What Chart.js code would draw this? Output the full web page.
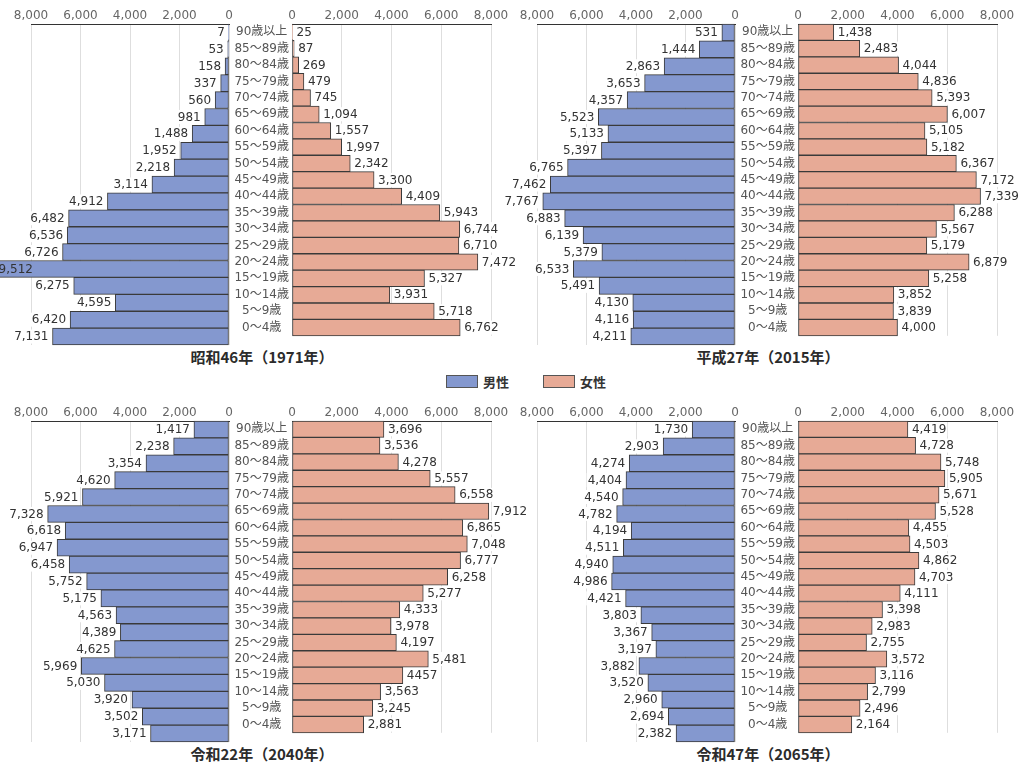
<!DOCTYPE html>
<html lang="ja">
<head>
<meta charset="utf-8">
<title>人口ピラミッド</title>
<script src="https://cdn.jsdelivr.net/npm/chart.js@4/dist/chart.umd.min.js"></script>
<style>
  html, body { margin: 0; padding: 0; background: #fff; }
  body { width: 1020px; height: 763px; position: relative; overflow: hidden;
         font-family: "DejaVu Sans", "Noto Sans CJK JP", sans-serif; }
  canvas { position: absolute; }
  .title { position: absolute; width: 240px; text-align: center; font: 700 15px "Noto Sans CJK JP", sans-serif;
           color: #2b2b2b; line-height: 20px; }
  .legend { position: absolute; top: 372px; left: 446px; display: flex; align-items: center;
            font: 700 13px "Noto Sans CJK JP", sans-serif; color: #333; }
  .legend span.sw { display: inline-block; width: 30px; height: 11px; border: 1px solid #555; margin-right: 5px; }
  .legend .item { display: flex; align-items: center; margin-right: 34px; }
</style>
</head>
<body>
<script>
// 年齢階級（上から下へ）
const ageGroups = ['90歳以上', '85～89歳', '80～84歳', '75～79歳', '70～74歳', '65～69歳', '60～64歳',
  '55～59歳', '50～54歳', '45～49歳', '40～44歳', '35～39歳', '30～34歳', '25～29歳', '20～24歳',
  '15～19歳', '10～14歳', '5～9歳', '0～4歳'];

// 人口（人）
const male1971 = [7, 53, 158, 337, 560, 981, 1488, 1952, 2218, 3114, 4912, 6482, 6536, 6726, 9512, 6275, 4595, 6420, 7131];
const female1971 = [25, 87, 269, 479, 745, 1094, 1557, 1997, 2342, 3300, 4409, 5943, 6744, 6710, 7472, 5327, 3931, 5718, 6762];
const male2015 = [531, 1444, 2863, 3653, 4357, 5523, 5133, 5397, 6765, 7462, 7767, 6883, 6139, 5379, 6533, 5491, 4130, 4116, 4211];
const female2015 = [1438, 2483, 4044, 4836, 5393, 6007, 5105, 5182, 6367, 7172, 7339, 6288, 5567, 5179, 6879, 5258, 3852, 3839, 4000];
const male2040 = [1417, 2238, 3354, 4620, 5921, 7328, 6618, 6947, 6458, 5752, 5175, 4563, 4389, 4625, 5969, 5030, 3920, 3502, 3171];
const female2040 = [3696, 3536, 4278, 5557, 6558, 7912, 6865, 7048, 6777, 6258, 5277, 4333, 3978, 4197, 5481, 4457, 3563, 3245, 2881];
const male2065 = [1730, 2903, 4274, 4404, 4540, 4782, 4194, 4511, 4940, 4986, 4421, 3803, 3367, 3197, 3882, 3520, 2960, 2694, 2382];
const female2065 = [4419, 4728, 5748, 5905, 5671, 5528, 4455, 4503, 4862, 4703, 4111, 3398, 2983, 2755, 3572, 3116, 2799, 2496, 2164];

// 15～19歳 の女性の値は桁区切りなしで表示
const female2040PlainRows = [15];

const axisMax = 8000;
const axisTicks = [0, 2000, 4000, 6000, 8000];

const MALE_COLOR = 'rgb(132,152,207)';
const FEMALE_COLOR = 'rgb(231,170,150)';
const BAR_BORDER = '#3a3a3a';
const FONT = '"DejaVu Sans", "Noto Sans CJK JP", sans-serif';

const fmt = v => v.toLocaleString('en-US');

// 棒の先に数値を描く
const valueLabels = {
  id: 'valueLabels',
  afterDatasetsDraw(chart, args, opts) {
    const { ctx } = chart;
    const values = chart.data.datasets[0].data;
    const plain = opts.plainRows || [];
    const max = chart.scales.x.max;
    ctx.save();
    ctx.font = '12px ' + FONT;
    ctx.textBaseline = 'middle';
    ctx.textAlign = 'left';
    chart.getDatasetMeta(0).data.forEach((bar, i) => {
      const v = values[i];
      const text = plain.includes(i) ? String(v) : fmt(v);
      const w = ctx.measureText(text).width;
      let x, bg = true;
      if (v > max) {
        // 軸の範囲を超える棒は棒の内側に表示
        x = opts.side === 'left' ? bar.x + 5 : bar.x - 5 - w;
        bg = false;
      } else {
        x = opts.side === 'left' ? bar.x - 4 - w : bar.x + 4;
      }
      if (bg) {
        ctx.fillStyle = '#fff';
        ctx.fillRect(x - 1, bar.y - 7, w + 2, 14);
      }
      ctx.fillStyle = '#333';
      ctx.fillText(text, x, bar.y + 0.5);
    });
    ctx.restore();
  }
};

function xScale(reverse) {
  return {
    position: 'top',
    reverse,
    min: 0,
    max: axisMax,
    ticks: {
      stepSize: 1000,
      autoSkip: false,
      maxRotation: 0,
      padding: 1,
      color: '#666',
      font: { family: FONT, size: 12 },
      callback: v => axisTicks.includes(v) ? fmt(v) : null
    },
    grid: { color: '#dedede', lineWidth: 1, drawTicks: false },
    border: { display: true, color: '#333', width: 1 },
    afterFit: s => { s.height = 24; }
  };
}

function makeCanvas(left, top, width, height) {
  const c = document.createElement('canvas');
  c.width = width; c.height = height;
  c.style.left = left + 'px'; c.style.top = top + 'px';
  c.style.width = width + 'px'; c.style.height = height + 'px';
  document.body.appendChild(c);
  return c;
}

function sideChart(canvas, values, isMale, padding, plainRows) {
  const scales = { x: xScale(isMale) };
  if (isMale) {
    scales.y = { display: false };
  } else {
    scales.y = {
      position: 'left',
      grid: { display: false, drawTicks: false },
      border: { display: false },
      ticks: { crossAlign: 'center', padding: 3, autoSkip: false, color: '#555',
                font: { family: FONT, size: 12 } },
      afterFit: s => { s.width = 63; }
    };
  }
  return new Chart(canvas, {
    type: 'bar',
    data: {
      labels: ageGroups,
      datasets: [{
        label: isMale ? '男性' : '女性',
        data: values,
        backgroundColor: isMale ? MALE_COLOR : FEMALE_COLOR,
        borderColor: BAR_BORDER,
        borderWidth: 1,
        borderSkipped: false,
        categoryPercentage: 1,
        barPercentage: 1,
        clip: false
      }]
    },
    options: {
      indexAxis: 'y',
      responsive: false,
      animation: false,
      devicePixelRatio: 1,
      layout: { padding },
      scales,
      plugins: {
        legend: { display: false },
        tooltip: { enabled: false },
        valueLabels: { side: isMale ? 'left' : 'right', plainRows: plainRows || [] }
      }
    },
    plugins: [valueLabels]
  });
}

const pyramids = [
  { title: '昭和46年（1971年）', male: male1971, female: female1971, ox: 0, oy: 0, femaleRight: 535 },
  { title: '平成27年（2015年）', male: male2015, female: female2015, ox: 506, oy: 0, femaleRight: 1020 },
  { title: '令和22年（2040年）', male: male2040, female: female2040, ox: 0, oy: 397, femaleRight: 535, plain: female2040PlainRows },
  { title: '令和47年（2065年）', male: male2065, female: female2065, ox: 506, oy: 397, femaleRight: 1020 }
];

const H = 346;
pyramids.forEach(p => {
  // 男性（左）：描画域 ox+31 〜 ox+229
  const mLeft = p.ox - 6;
  const mc = makeCanvas(Math.max(mLeft, 0), p.oy, p.ox + 235 - Math.max(mLeft, 0), H);
  sideChart(mc, p.male, true, { left: p.ox + 31 - Math.max(mLeft, 0), right: 6, top: 0, bottom: 1 });
  // 女性（右）：年齢ラベル ox+229 〜 ox+292、描画域 ox+292 〜 ox+491
  const fLeft = p.ox + 229;
  const fc = makeCanvas(fLeft, p.oy, p.femaleRight - fLeft, H);
  sideChart(fc, p.female, false, { left: 0, right: p.femaleRight - (p.ox + 491), top: 0, bottom: 1 }, p.plain);

  const t = document.createElement('div');
  t.className = 'title';
  t.textContent = p.title;
  t.style.left = (p.ox + 262 - 120) + 'px';
  t.style.top = (p.oy + 347) + 'px';
  document.body.appendChild(t);
});

const legend = document.createElement('div');
legend.className = 'legend';
legend.innerHTML =
  '<div class="item"><span class="sw" style="background:' + MALE_COLOR + '"></span>男性</div>' +
  '<div class="item"><span class="sw" style="background:' + FEMALE_COLOR + '"></span>女性</div>';
document.body.appendChild(legend);
</script>
</body>
</html>
